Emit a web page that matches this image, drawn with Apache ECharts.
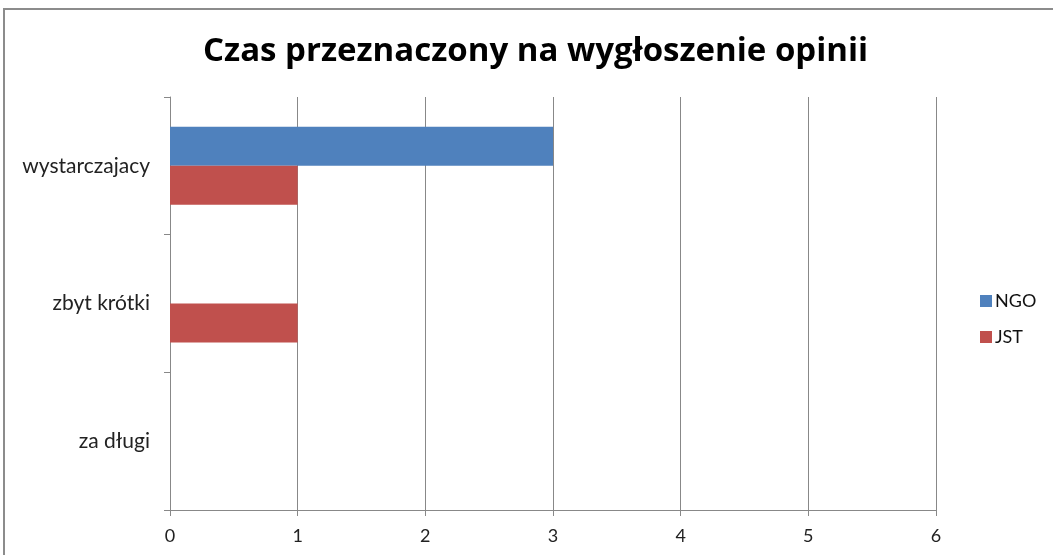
<!DOCTYPE html>
<html><head><meta charset="utf-8">
<script src="https://cdn.jsdelivr.net/npm/echarts@6/dist/echarts.min.js"></script>
<style>html,body{margin:0;padding:0;background:#fff}#c{width:1053px;height:555px}</style>
</head><body><div id="c"></div>
<script>
const categories = ['wystarczajacy', 'zbyt krótki', 'za długi'];
const ngoValues = [3, 0, 0];
const jstValues = [1, 1, 0];
const xTicks = [0, 1, 2, 3, 4, 5, 6];

const chart = echarts.init(document.getElementById('c'));
chart.setOption({
  animation: false,
  backgroundColor: '#fff',
  title: {
    text: 'Czas przeznaczony na wygłoszenie opinii',
    left: 198, top: 30,
    textStyle: { fontFamily: 'Open Sans', fontWeight: 'bold', fontSize: 33, color: '#000' }
  },
  graphic: [{
    type: 'rect', shape: { x: 4, y: 9, width: 1060, height: 560 },
    style: { fill: 'none', stroke: '#8c8c8c', lineWidth: 2 }, silent: true
  }],
  legend: {
    orient: 'vertical', left: 975, top: 287, itemGap: 18,
    itemWidth: 12, itemHeight: 12, icon: 'rect',
    textStyle: { fontFamily: 'Lato', fontSize: 18, color: '#111', padding: [0, 0, 0, -2] },
    data: ['NGO', 'JST']
  },
  grid: { left: 170, right: 117, top: 97, bottom: 45, containLabel: false },
  xAxis: {
    type: 'value', min: 0, max: 6, interval: 1,
    axisLine: { show: true, lineStyle: { color: '#888', width: 1 } },
    axisTick: { show: true, length: 6, lineStyle: { color: '#888' } },
    axisLabel: { fontFamily: 'Lato', fontSize: 18, color: '#222', margin: 17,
      formatter: v => xTicks.includes(v) ? String(v) : '' },
    splitLine: { show: true, lineStyle: { color: '#888', width: 1 } }
  },
  yAxis: {
    type: 'category', data: categories, inverse: true,
    axisLine: { show: true, lineStyle: { color: '#888', width: 1 } },
    axisTick: { show: true, length: 6, lineStyle: { color: '#888' } },
    axisLabel: { fontFamily: 'Lato', fontSize: 21, color: '#222', margin: 20 }
  },
  series: [
    { name: 'NGO', type: 'bar', data: ngoValues, barWidth: 39, barGap: '0%',
      itemStyle: { color: '#4f81bd' } },
    { name: 'JST', type: 'bar', data: jstValues, barWidth: 39, barGap: '0%',
      itemStyle: { color: '#c0504d' } }
  ]
});
</script></body></html>
